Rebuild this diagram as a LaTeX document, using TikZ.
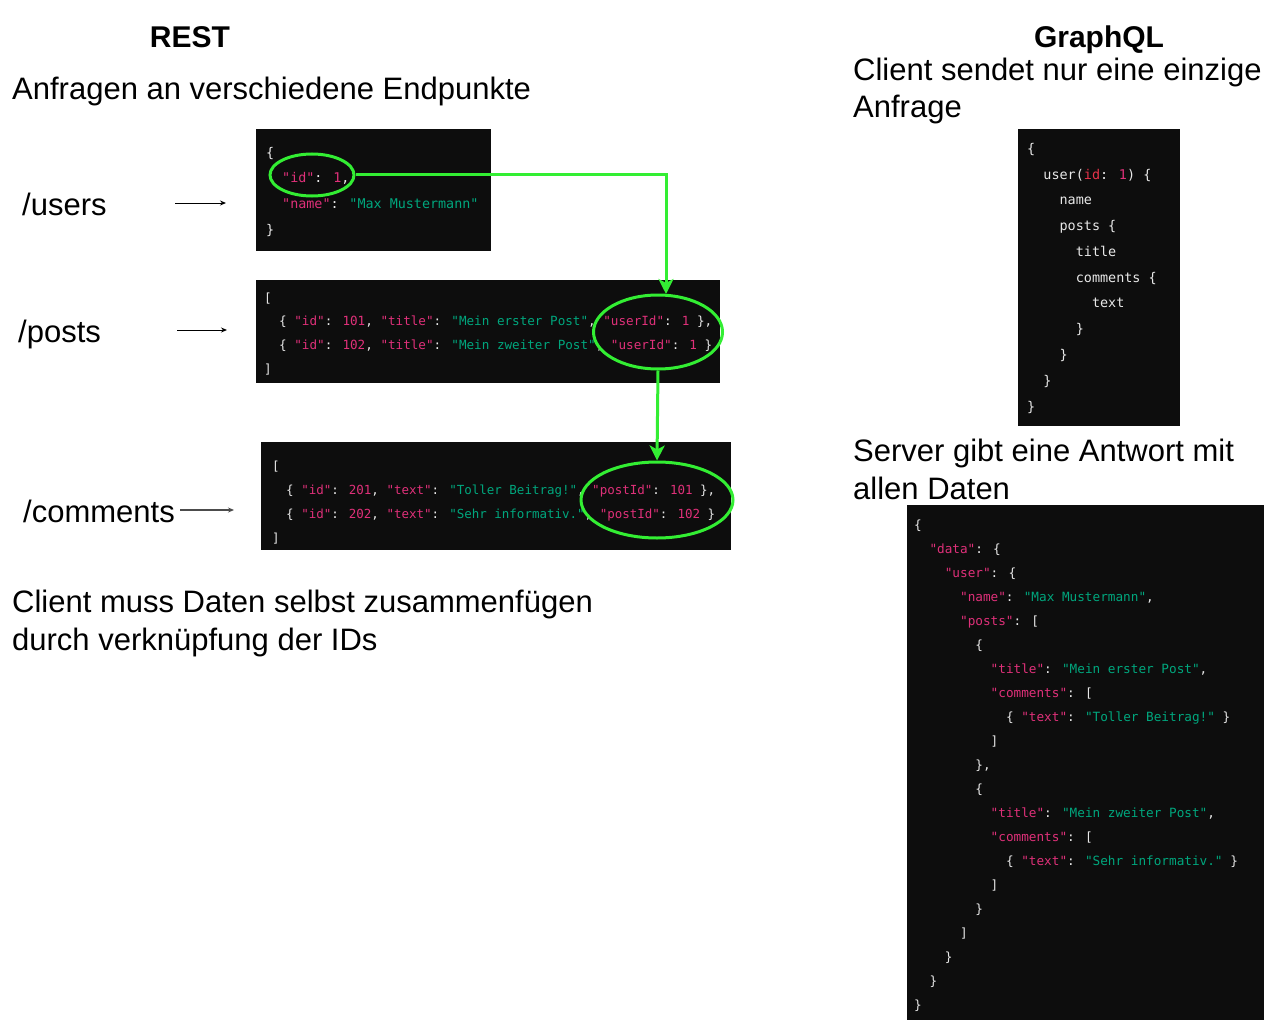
\documentclass[tikz,border=0pt]{standalone}
\usepackage{fontspec}
\setmainfont{Liberation Sans}
\newfontfamily\codefont{DejaVu Sans Mono}
\usetikzlibrary{shapes.geometric,arrows.meta}
\definecolor{codebg}{HTML}{0D0D0D}
\definecolor{ckey}{HTML}{DF3079}
\definecolor{cstr}{HTML}{00A67D}
\definecolor{cgreen}{HTML}{33EE33}
\definecolor{cid}{HTML}{E8334A}
\definecolor{cpunct}{HTML}{E8E8E8}
\newcommand\ck[1]{\textcolor{ckey}{#1}}
\newcommand\cst[1]{\textcolor{cstr}{#1}}
\newcommand\cnm[1]{\textcolor{ckey}{#1}}
\begin{document}
\begin{tikzpicture}[x=1pt,y=-1pt,
  txt/.style={anchor=base west, inner sep=0pt, font=\fontsize{31}{37.5}\selectfont, align=left},
  ttl/.style={anchor=base, inner sep=0pt, font=\fontsize{30}{36}\selectfont\bfseries},
  codebox/.style={fill=codebg, draw=none, inner sep=0pt, anchor=north west},
  code/.style={anchor=base west, inner sep=0pt, text=cpunct},
  cu/.style={code, font=\codefont\fontsize{13.4}{13.4}\selectfont},
  cp/.style={code, font=\codefont\fontsize{12.62}{12.62}\selectfont},
  cc/.style={code, font=\codefont\fontsize{12.5}{12.5}\selectfont},
  cq/.style={code, font=\codefont\fontsize{13.45}{13.45}\selectfont},
  cr/.style={code, font=\codefont\fontsize{12.7}{12.7}\selectfont},
  hl/.style={ellipse, draw=cgreen, line width=3pt, inner sep=0pt},
  link/.style={draw=cgreen, line width=3pt, -{Stealth[length=15pt,width=15pt,inset=4pt]}},
  epa/.style={draw=black, line width=1pt, -{Stealth[length=6pt,width=5pt]}}
]
\useasboundingbox (0,0) rectangle (1276,1027);
\fill[white] (0,0) rectangle (1276,1027);

% titles
\node[ttl] (rest) at (190,48) {REST};
\node[ttl] (gql) at (1099,48) {GraphQL};
\node[txt] (anf) at (12,100) {Anfragen an verschiedene Endpunkte};
\node[txt] (csend) at (853,118) {Client sendet nur eine einzige\\Anfrage};
\node[txt] (server) at (853,499) {Server gibt eine Antwort mit\\allen Daten};
\node[txt] (cmuss) at (12,650) {Client muss Daten selbst zusammenfügen\\durch verknüpfung der IDs};

% endpoint labels
\node[txt] (lusers) at (22,215) {/users};
\node[txt] (lposts) at (18,342) {/posts};
\node[txt] (lcomments) at (23,522) {/comments};
\coordinate (a1s) at (175,203); \coordinate (a1e) at (226,203);
\coordinate (a2s) at (177,330); \coordinate (a2e) at (227,330);
\coordinate (a3s) at (180,510); \coordinate (a3e) at (234,510);
\draw[epa] (a1s) -- (a1e);
\draw[epa] (a2s) -- (a2e);
\draw[epa, draw=black!70, line width=1.6pt] (a3s) -- (a3e);

% code boxes
\node[codebox, minimum width=235pt, minimum height=122pt] (busers) at (256,129) {};
\node[codebox, minimum width=464pt, minimum height=103pt] (bposts) at (256,280) {};
\node[codebox, minimum width=470pt, minimum height=108pt] (bcomm) at (261,442) {};
\node[codebox, minimum width=162pt, minimum height=297pt] (bquery) at (1018,129) {};
\node[codebox, minimum width=357pt, minimum height=515pt] (bresp) at (907,505) {};

% users code
\node[cu] (u1) at (266,157.5) {\{};
\node[cu] (u2) at (282,182.5) {\ck{"id"}: \cnm{1},};
\node[cu] (u3) at (282,208.5) {\ck{"name"}: \cst{"Max Mustermann"}};
\node[cu] (u4) at (266,234.5) {\}};

% posts code
\node[cp] (p1) at (264,302.5) {[};
\node[cp] (p2) at (279,325.5) {\{ \ck{"id"}: \cnm{101}, \ck{"title"}: \cst{"Mein erster Post"}, \ck{"userId"}: \cnm{1} \},};
\node[cp] (p3) at (279,349.5) {\{ \ck{"id"}: \cnm{102}, \ck{"title"}: \cst{"Mein zweiter Post"}, \ck{"userId"}: \cnm{1} \}};
\node[cp] (p4) at (264,373.5) {]};

% comments code
\node[cc] (c1) at (272,470.5) {[};
\node[cc] (c2) at (286,494.5) {\{ \ck{"id"}: \cnm{201}, \ck{"text"}: \cst{"Toller Beitrag!"}, \ck{"postId"}: \cnm{101} \},};
\node[cc] (c3) at (286,518.5) {\{ \ck{"id"}: \cnm{202}, \ck{"text"}: \cst{"Sehr informativ."}, \ck{"postId"}: \cnm{102} \}};
\node[cc] (c4) at (272,542.5) {]};

% query code
\node[cq] (q1) at (1027,153.5) {\{};
\node[cq] (q2) at (1043.2,179.5) {user(\textcolor{cid}{id}: \cnm{1}) \{};
\node[cq] (q3) at (1059.4,204.5) {name};
\node[cq] (q4) at (1059.4,230.5) {posts \{};
\node[cq] (q5) at (1075.6,256.5) {title};
\node[cq] (q6) at (1075.6,282.5) {comments \{};
\node[cq] (q7) at (1091.8,307.5) {text};
\node[cq] (q8) at (1075.6,333.5) {\}};
\node[cq] (q9) at (1059.4,359.5) {\}};
\node[cq] (q10) at (1043.2,385.5) {\}};
\node[cq] (q11) at (1027,411.5) {\}};

% response code
\node[cr] (r0) at (914,529.5) {\{};
\node[cr] (r1) at (929.3,553.5) {\ck{"data"}: \{};
\node[cr] (r2) at (944.6,577.5) {\ck{"user"}: \{};
\node[cr] (r3) at (959.9,601.5) {\ck{"name"}: \cst{"Max Mustermann"},};
\node[cr] (r4) at (959.9,625.5) {\ck{"posts"}: [};
\node[cr] (r5) at (975.2,649.5) {\{};
\node[cr] (r6) at (990.5,673.5) {\ck{"title"}: \cst{"Mein erster Post"},};
\node[cr] (r7) at (990.5,697.5) {\ck{"comments"}: [};
\node[cr] (r8) at (1005.8,721.5) {\{ \ck{"text"}: \cst{"Toller Beitrag!"} \}};
\node[cr] (r9) at (990.5,745.5) {]};
\node[cr] (r10) at (975.2,769.5) {\},};
\node[cr] (r11) at (975.2,793.5) {\{};
\node[cr] (r12) at (990.5,817.5) {\ck{"title"}: \cst{"Mein zweiter Post"},};
\node[cr] (r13) at (990.5,841.5) {\ck{"comments"}: [};
\node[cr] (r14) at (1005.8,865.5) {\{ \ck{"text"}: \cst{"Sehr informativ."} \}};
\node[cr] (r15) at (990.5,889.5) {]};
\node[cr] (r16) at (975.2,913.5) {\}};
\node[cr] (r17) at (959.9,937.5) {]};
\node[cr] (r18) at (944.6,961.5) {\}};
\node[cr] (r19) at (929.3,985.5) {\}};
\node[cr] (r20) at (914,1009.5) {\}};

% highlights
\node[hl, minimum width=84pt, minimum height=42pt] (e1) at (312,175) {};
\node[hl, minimum width=129pt, minimum height=74pt] (e2) at (658,332) {};
\node[hl, minimum width=152pt, minimum height=76pt] (e3) at (657,500) {};
\coordinate (t2) at (666,294);
\draw[link] (e1.east) -| (t2);
\draw[link] (e2.south) -- (e3.north);
\end{tikzpicture}
\end{document}
